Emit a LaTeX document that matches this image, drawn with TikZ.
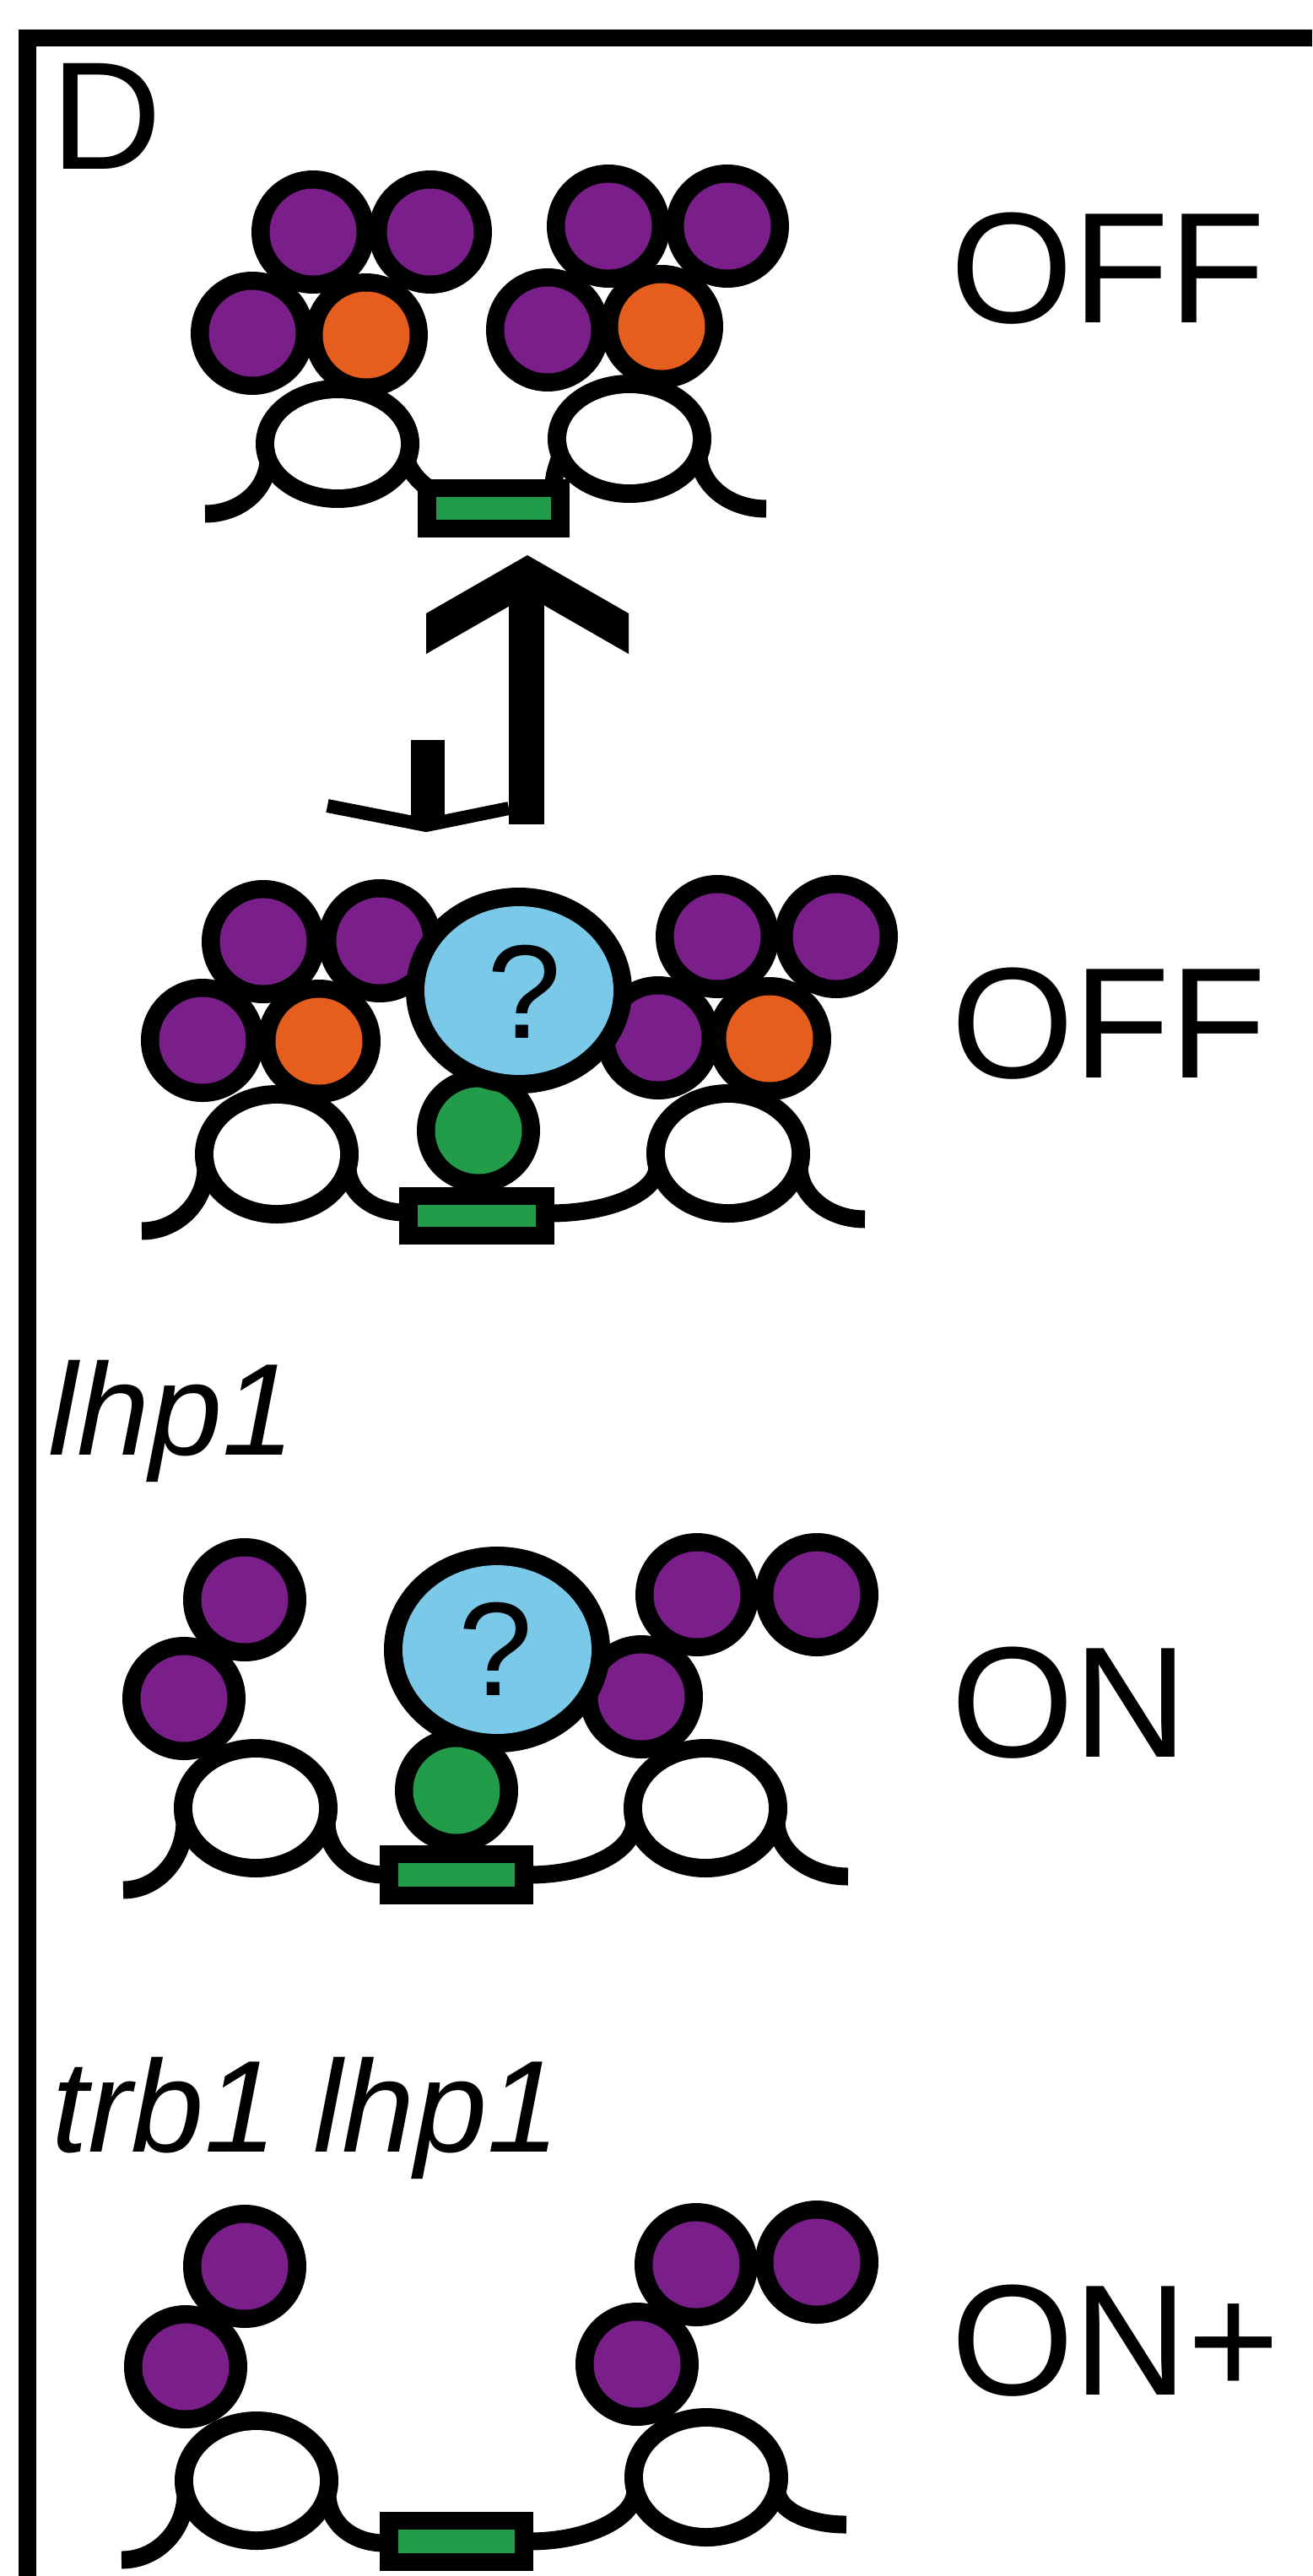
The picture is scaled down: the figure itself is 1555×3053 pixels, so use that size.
\documentclass[tikz,border=0pt]{standalone}
\usepackage{fontspec}
\setmainfont{Liberation Sans}
\definecolor{hpurple}{RGB}{122,31,138}
\definecolor{horange}{RGB}{229,94,30}
\definecolor{qblue}{RGB}{122,201,233}
\definecolor{ggreen}{RGB}{34,156,72}

% one histone disc: black rim, coloured core
\newcommand{\hstn}[3]{%
  \fill[black] (#1,#2) circle[radius=73];
  \fill[#3] (#1,#2) circle[radius=51.5];}
% one nucleosome core (closed loop of DNA): centre x, centre y, vertical radius
\newcommand{\nucl}[3]{%
  \fill[black] (#1,#2) ellipse[x radius=97,y radius=#3+11];
  \fill[white] (#1,#2) ellipse[x radius=75,y radius=#3-11];}
% gene box: black frame around a green bar (outer corners)
\newcommand{\gene}[4]{%
  \fill[black] (#1,#2) rectangle (#3,#4);
  \fill[ggreen] (#1+22,#2+21) rectangle (#3-22,#4-21);}

\begin{document}
\begin{tikzpicture}[x=1pt,y=-1pt,
  dna/.style={draw=black,line width=21pt,line cap=butt},
  lbl/.style={inner sep=0pt,anchor=base west,font=\fontsize{187}{190}\selectfont},
  mutant/.style={inner sep=0pt,anchor=base west,font=\fontsize{155}{160}\selectfont\itshape},
  qmark/.style={inner sep=0pt,font=\fontsize{158}{160}\selectfont},
  tss/.style={fill=black}]

\useasboundingbox (0,0) rectangle (1555,3053);
\fill[white] (0,0) rectangle (1555,3053);

% panel frame (top and left rules)
\fill[black] (22,35) rectangle (1555,55);
\fill[black] (22,35) rectangle (43,3053);

\node[inner sep=0pt,anchor=base west,font=\fontsize{182}{185}\selectfont] (panel) at (60,201) {D};

% ---------------- state 1: OFF ----------------
\draw[dna] (318,546) .. controls (316,582) and (283,609) .. (243,609);
\draw[dna] (482,546) .. controls (486,560) and (498,572) .. (512,582);
\draw[dna] (664,540) .. controls (660,556) and (652,570) .. (660,582);
\draw[dna] (828,540) .. controls (830,576) and (865,603) .. (908,603);
\nucl{400}{526}{65}
\nucl{746}{520}{65}
\hstn{371}{275}{hpurple}
\hstn{510}{275}{hpurple}
\hstn{721}{268}{hpurple}
\hstn{862}{268}{hpurple}
\hstn{299}{395}{hpurple}
\hstn{434}{397}{horange}
\hstn{649}{391}{hpurple}
\hstn{784}{387}{horange}
\gene{495}{568}{675}{637}
\node[lbl] (off1) at (1126,382) {OFF};

% ---------------- transition symbol ----------------
\fill[tss] (625,658) -- (745,727) -- (745,775) -- (625,706) -- (505,775) -- (505,727) -- cycle;
\fill[tss] (603,700) rectangle (645,977);
\fill[tss] (487,877) rectangle (527,980);
\draw[line width=16pt,line join=miter] (388,955) -- (505,978) -- (603,958);

% ---------------- state 2: OFF ----------------
\draw[dna] (244,1383) .. controls (244,1425) and (210,1459) .. (168,1459);
\draw[dna] (412,1383) .. controls (412,1412) and (440,1437) .. (480,1437);
\draw[dna] (650,1438) .. controls (724,1438) and (779,1413) .. (779,1382);
\draw[dna] (947,1382) .. controls (947,1417) and (982,1445) .. (1025,1445);
\nucl{328}{1368}{71}
\nucl{863}{1367}{71}
\hstn{312}{1116}{hpurple}
\hstn{450}{1115}{hpurple}
\hstn{850}{1110}{hpurple}
\hstn{991}{1110}{hpurple}
\hstn{240}{1233}{hpurple}
\hstn{378}{1234}{horange}
\hstn{780}{1230}{hpurple}
\hstn{912}{1231}{horange}
\hstn{567}{1340}{ggreen}
\fill[black] (615,1174) ellipse[x radius=134,y radius=122];
\fill[qblue] (615,1174) ellipse[x radius=112,y radius=100];
\node[qmark] (q1) at (621,1175) {?};
\gene{473}{1407}{657}{1475}
\node[lbl] (off2) at (1127,1277) {OFF};

% ---------------- state 3: lhp1, ON ----------------
\node[mutant] (mut1) at (57,1724) {lhp1};
\draw[dna] (219,2158) .. controls (219,2204) and (186,2240) .. (146,2240);
\draw[dna] (387,2158) .. controls (387,2194) and (415,2222) .. (456,2222);
\draw[dna] (626,2222) .. controls (698,2222) and (752,2194) .. (752,2158);
\draw[dna] (920,2158) .. controls (920,2194) and (958,2224) .. (1005,2224);
\nucl{303}{2143}{71}
\nucl{836}{2143}{71}
\hstn{290}{1896}{hpurple}
\hstn{218}{2013}{hpurple}
\hstn{826}{1890}{hpurple}
\hstn{968}{1890}{hpurple}
\hstn{760}{2011}{hpurple}
\hstn{541}{2122}{ggreen}
\fill[black] (589,1955) ellipse[x radius=134,y radius=122];
\fill[qblue] (589,1955) ellipse[x radius=112,y radius=100];
\node[qmark] (q2) at (587,1954) {?};
\gene{450}{2187}{632}{2257}
\node[lbl] (on1) at (1127,2082) {ON};

% ---------------- state 4: trb1 lhp1, ON+ ----------------
\node[mutant] (mut2) at (61,2550) {trb1 lhp1};
\draw[dna] (220,2955) .. controls (220,2999) and (186,3034) .. (144,3034);
\draw[dna] (388,2955) .. controls (388,2989) and (416,3014) .. (456,3014);
\draw[dna] (626,3012) .. controls (698,3012) and (753,2984) .. (753,2951);
\draw[dna] (921,2951) .. controls (921,2974) and (956,2992) .. (1003,2992);
\nucl{304}{2940}{71}
\nucl{837}{2936}{71}
\hstn{290}{2686}{hpurple}
\hstn{220}{2805}{hpurple}
\hstn{825}{2684}{hpurple}
\hstn{968}{2681}{hpurple}
\hstn{755}{2802}{hpurple}
\gene{450}{2977}{632}{3047}
\node[lbl] (on2) at (1127,2838) {ON+};

\end{tikzpicture}
\end{document}
